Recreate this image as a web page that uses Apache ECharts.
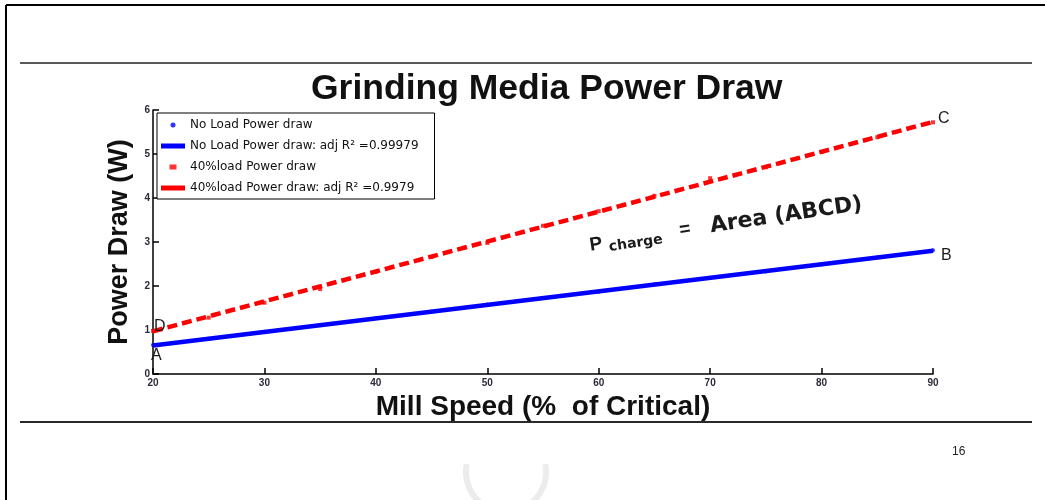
<!DOCTYPE html>
<html>
<head>
<meta charset="utf-8">
<script src="https://cdn.jsdelivr.net/npm/echarts@6/dist/echarts.min.js"></script>
<style>
  html, body { margin: 0; padding: 0; background: #ffffff; }
  #chart { width: 1045px; height: 500px; }
</style>
</head>
<body>
<div id="chart"></div>
<script>
// Mill speed (% of critical) at which power draw was logged
const speeds = [20, 25, 30, 35, 40, 45, 50, 55, 60, 65, 70, 75, 80, 85, 90];
// Measured power draw (W)
const noLoadPower = [0.66, 0.80, 0.96, 1.11, 1.27, 1.42, 1.58, 1.73, 1.87, 2.04, 2.19, 2.33, 2.49, 2.65, 2.81];
const load40Power = [0.98, 1.28, 1.62, 1.93, 2.32, 2.66, 2.98, 3.37, 3.70, 4.05, 4.45, 4.70, 5.05, 5.38, 5.72];
// Linear fits: speed at the ends and fitted power there
const fitSpeeds = [20, 90];
const noLoadFit = [0.65, 2.80];
const load40Fit = [0.97, 5.73];
// Corner letters of the area between the two fits
const noLoadCorners = ['A', 'B'];
const load40Corners = ['D', 'C'];
// Axis ticks
const xTicks = [20, 30, 40, 50, 60, 70, 80, 90];
const yTicks = [0, 1, 2, 3, 4, 5, 6];

const names = [
  'No Load Power draw',
  'No Load Power draw: adj R\u00B2 =0.99979',
  '40%load Power draw',
  '40%load Power draw: adj R\u00B2 =0.9979'
];

const BLUE = '#0000ff';
const RED = '#ff0000';
const FONT = '"Liberation Sans", Arial, sans-serif';
const WIDE = '"DejaVu Sans", sans-serif';

function pairs(xs, ys) { return xs.map((x, i) => [x, ys[i]]); }

// fit line ends, each carrying its corner letter
function fitData(ys, letters, offsets) {
  return fitSpeeds.map((x, i) => ({
    value: [x, ys[i]],
    symbolSize: 0,
    label: {
      show: true,
      formatter: letters[i],
      position: offsets[i],
      color: '#1b1b1b',
      fontSize: 16,
      fontFamily: FONT
    }
  }));
}

const chart = echarts.init(document.getElementById('chart'), null, { renderer: 'canvas' });

const lineIcon = 'path://M0,0H24V5H0Z';
const markIcon = 'path://M0,0H7V5H0Z';

chart.setOption({
  animation: false,
  backgroundColor: '#ffffff',
  title: {
    text: 'Grinding Media Power Draw',
    left: 306,
    top: 66,
    textStyle: { fontFamily: FONT, fontSize: 35.5, fontWeight: 'bold', color: '#111111' }
  },
  grid: { left: 153, right: 112, top: 110, bottom: 126, containLabel: false },
  legend: {
    orient: 'vertical',
    left: 157,
    top: 113,
    padding: [6, 16, 5, 4],
    itemGap: 9,
    itemWidth: 24,
    itemHeight: 5,
    backgroundColor: '#ffffff',
    borderColor: '#000000',
    borderWidth: 1,
    textStyle: { fontFamily: WIDE, fontSize: 12, color: '#111111' },
    data: [
      { name: names[0], icon: 'circle' },
      { name: names[1], icon: lineIcon },
      { name: names[2], icon: markIcon },
      { name: names[3], icon: lineIcon }
    ]
  },
  xAxis: {
    type: 'value',
    min: 20,
    max: 90,
    interval: 10,
    name: 'Mill Speed (%  of Critical)',
    nameLocation: 'middle',
    nameGap: 18,
    nameTextStyle: { fontFamily: FONT, fontSize: 28, fontWeight: 'bold', color: '#111111' },
    splitLine: { show: false },
    axisLine: { lineStyle: { color: '#000000', width: 1.5 } },
    axisTick: { inside: true, length: 6, lineStyle: { color: '#000000', width: 1.5 } },
    axisLabel: {
      margin: 4,
      fontFamily: FONT, fontSize: 10, fontWeight: 'bold', color: '#2a2a3a',
      formatter: v => (xTicks.includes(v) ? String(v) : '')
    }
  },
  yAxis: {
    type: 'value',
    min: 0,
    max: 6,
    interval: 1,
    name: 'Power Draw (W)',
    nameLocation: 'middle',
    nameGap: 12,
    nameTextStyle: { fontFamily: FONT, fontSize: 27, fontWeight: 'bold', color: '#111111' },
    splitLine: { show: false },
    axisLine: { show: true, lineStyle: { color: '#000000', width: 1.5 } },
    axisTick: { show: true, inside: true, length: 6, lineStyle: { color: '#000000', width: 1.5 } },
    axisLabel: {
      margin: 3,
      fontFamily: FONT, fontSize: 10, fontWeight: 'bold', color: '#2a2a3a',
      formatter: v => (yTicks.includes(v) ? String(v) : '')
    }
  },
  series: [
    {
      name: names[0],
      type: 'scatter',
      data: pairs(speeds, noLoadPower),
      symbol: 'circle',
      symbolSize: 4,
      itemStyle: { color: BLUE },
      z: 2
    },
    {
      name: names[1],
      type: 'line',
      data: fitData(noLoadFit, noLoadCorners, [[-2, 2], [8, -3]]),
      showSymbol: true,
      symbol: 'circle',
      itemStyle: { color: BLUE },
      lineStyle: { color: BLUE, width: 4.5 },
      z: 3
    },
    {
      name: names[2],
      type: 'scatter',
      data: pairs(speeds, load40Power),
      symbol: 'rect',
      symbolSize: 4,
      itemStyle: { color: RED },
      z: 2
    },
    {
      name: names[3],
      type: 'line',
      data: fitData(load40Fit, load40Corners, [[1, -13], [5, -11]]),
      showSymbol: true,
      symbol: 'circle',
      itemStyle: { color: RED },
      lineStyle: { color: RED, width: 4.5, type: [10, 5] },
      z: 3
    }
  ],
  graphic: [
    // page frame
    { type: 'line', shape: { x1: 6, y1: 5, x2: 1045, y2: 5 }, style: { stroke: '#000000', lineWidth: 2 } },
    { type: 'line', shape: { x1: 6, y1: 5, x2: 6, y2: 500 }, style: { stroke: '#000000', lineWidth: 2 } },
    // header and footer rules
    { type: 'line', shape: { x1: 20, y1: 63, x2: 1032, y2: 63 }, style: { stroke: '#5a5a5a', lineWidth: 2 } },
    { type: 'line', shape: { x1: 20, y1: 422, x2: 1032, y2: 422 }, style: { stroke: '#2a2a2a', lineWidth: 2 } },
    // page number
    { type: 'text', left: 952, top: 446, style: { text: '16', fontFamily: FONT, fontSize: 12, fill: '#222222' } },
    // faint mark at the bottom edge
    {
      type: 'arc',
      shape: { cx: 506, cy: 472, r: 40, startAngle: -0.2, endAngle: Math.PI + 0.2, clockwise: true },
      style: { stroke: '#ececec', lineWidth: 6, fill: null }
    },
    // area annotation
    {
      type: 'group',
      x: 591,
      y: 255,
      rotation: 0.145,
      children: [
        { type: 'text', x: 0, y: 0, style: { text: 'P', fontFamily: FONT, fontSize: 19, fontWeight: 'bold', fill: '#1a1a1a', textVerticalAlign: 'bottom' } },
        { type: 'text', x: 19, y: 2, style: { text: 'charge', fontFamily: WIDE, fontSize: 14, fontWeight: 'bold', fill: '#1a1a1a', textVerticalAlign: 'bottom' } },
        { type: 'text', x: 91, y: -2, style: { text: '=', fontFamily: FONT, fontSize: 19, fontWeight: 'bold', fill: '#1a1a1a', textVerticalAlign: 'bottom' } },
        { type: 'text', x: 122, y: 0, style: { text: 'Area (ABCD)', fontFamily: WIDE, fontSize: 22, fontWeight: 'bold', fill: '#1a1a1a', textVerticalAlign: 'bottom' } }
      ]
    }
  ]
});
</script>
</body>
</html>
